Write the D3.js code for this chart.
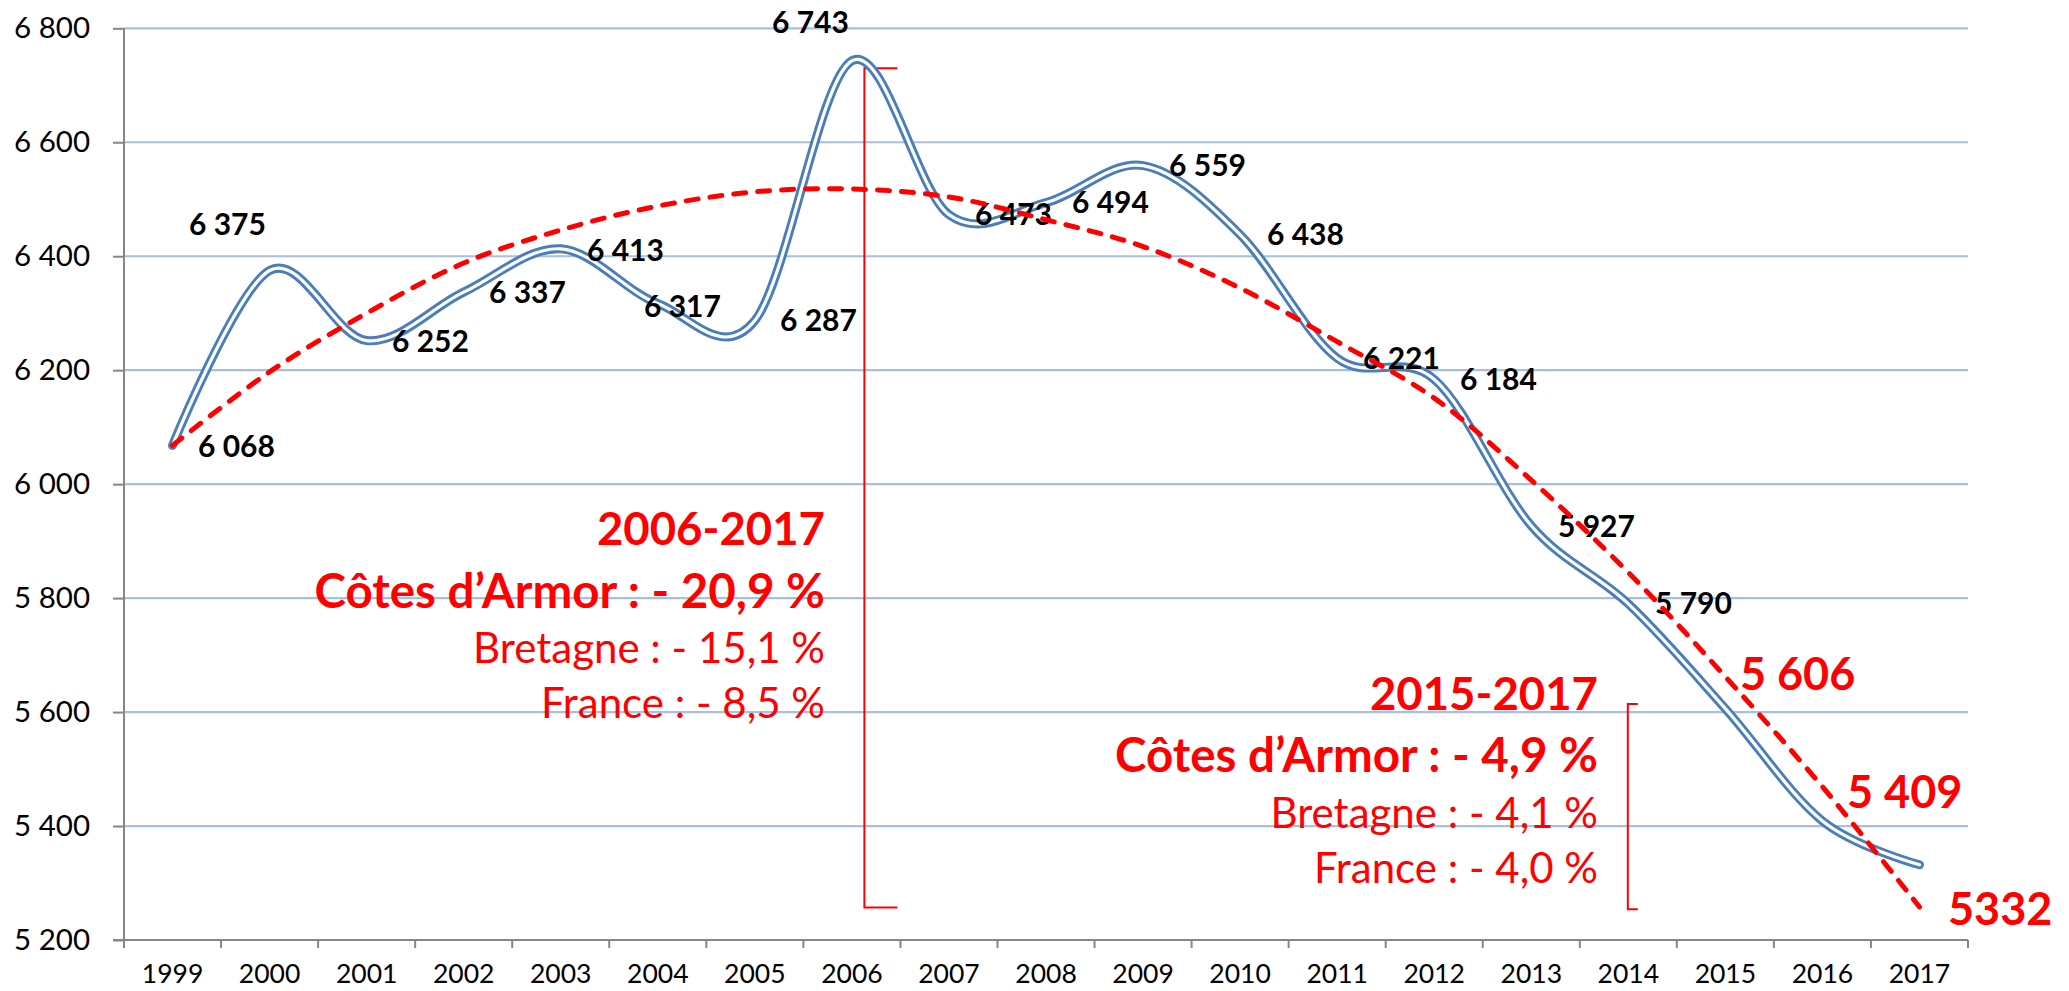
<!DOCTYPE html>
<html><head><meta charset="utf-8">
<script src="https://cdn.jsdelivr.net/npm/d3@7"></script>
<style>body{margin:0;background:#fff}svg{display:block}</style>
</head><body>
<svg id="chart" width="2069" height="991"></svg>
<script>
// ---------- DATA ----------
const years = ["1999","2000","2001","2002","2003","2004","2005","2006","2007","2008","2009","2010","2011","2012","2013","2014","2015","2016","2017"];
const values = [6068,6375,6252,6337,6413,6317,6287,6743,6473,6494,6559,6438,6221,6184,5927,5790,5606,5409,5332];
const valueLabels = ["6 068","6 375","6 252","6 337","6 413","6 317","6 287","6 743","6 473","6 494","6 559","6 438","6 221","6 184","5 927","5 790","5 606","5 409","5332"];
// trend line (red dashed)
const trendValues = [6068,6197,6300,6388,6446,6488,6513,6518,6504,6464,6417,6344,6250,6151,6007,5845,5662,5469,5258];
const yTicks = [5200,5400,5600,5800,6000,6200,6400,6600,6800];
const yTickLabels = ["5 200","5 400","5 600","5 800","6 000","6 200","6 400","6 600","6 800"];
const annotation1 = ["2006-2017","Côtes d’Armor : - 20,9 %","Bretagne : - 15,1 %","France : - 8,5 %"];
const annotation2 = ["2015-2017","Côtes d’Armor : - 4,9 %","Bretagne : - 4,1 %","France : - 4,0 %"];
const bracket1 = {year:"2006", from:6730, to:5257};
const bracket2 = {year:"2014", from:5614, to:5254};
const highlightedYears = ["2015","2016","2017"];

// ---------- LAYOUT ----------
const plot = {left:124, right:1968, top:28.3, bottom:940};
const FONT = "Lato, 'Open Sans', sans-serif";
const blue = "#4A7EBB", red = "#FF0000", axisCol = "#868686", gridCol = "#A7BFE3";
// data-label offsets relative to the point (left edge, baseline)
const labelDx = [25.5,-80.6,25.4,25.3,26.3,-13.8,25.2,-79.9,26.1,26,26,26.9,25.8,25.8,26.7,26.7,14.6,24.6,28.5];
const labelDy = [11.6,-35.4,11.5,10.9,12.2,13.5,10.4,-27.8,10.4,10.4,10.4,10.5,10.8,10.7,11.3,10.3,-18.6,-12.8,60.3];

const svg = d3.select("#chart");
const x = d3.scaleBand().domain(years).range([plot.left, plot.right]);
const y = d3.scaleLinear().domain([5200, 6800]).range([plot.bottom, plot.top]);
const cx = d => x(d) + x.bandwidth()/2;

// gridlines
svg.append("g").selectAll("line").data(yTicks.filter(t => t > 5200)).join("line")
  .attr("x1", plot.left).attr("x2", plot.right)
  .attr("y1", d => y(d)).attr("y2", d => y(d))
  .attr("stroke", gridCol).attr("stroke-width", 2.2);

// y axis
const yAxis = svg.append("g").attr("transform", `translate(${plot.left},0)`)
  .call(d3.axisLeft(y).tickValues(yTicks).tickSize(11).tickPadding(23)
    .tickFormat((d,i) => yTickLabels[i]));
yAxis.select(".domain").remove();
yAxis.selectAll("line").attr("stroke", axisCol).attr("stroke-width", 2);
yAxis.selectAll("text").attr("font-family", FONT).attr("font-size", 29.5).attr("fill", "#000");
svg.append("line").attr("x1", plot.left).attr("x2", plot.left)
  .attr("y1", plot.top).attr("y2", plot.bottom).attr("stroke", axisCol).attr("stroke-width", 2);

// x axis
const xAxis = svg.append("g").attr("transform", `translate(0,${plot.bottom})`)
  .call(d3.axisBottom(x).tickSize(0).tickPadding(24));
xAxis.select(".domain").remove();
xAxis.selectAll("text").attr("font-family", FONT).attr("font-size", 26.5).attr("fill", "#000");
const bounds = years.map(d => x(d)).concat([x.range()[1]]);
svg.append("g").selectAll("line").data(bounds).join("line")
  .attr("x1", d => d).attr("x2", d => d).attr("y1", plot.bottom).attr("y2", plot.bottom + 8)
  .attr("stroke", axisCol).attr("stroke-width", 2);
svg.append("line").attr("x1", plot.left - 11).attr("x2", plot.right)
  .attr("y1", plot.bottom).attr("y2", plot.bottom).attr("stroke", axisCol).attr("stroke-width", 2);

// brackets
function bracket(b, dxLine, tick) {
  const xl = cx(b.year) + dxLine;
  svg.append("path")
    .attr("d", `M${xl + tick},${y(b.from)} L${xl},${y(b.from)} L${xl},${y(b.to)} L${xl + tick},${y(b.to)}`)
    .attr("fill", "none").attr("stroke", red).attr("stroke-width", 2);
}
bracket(bracket1, 12.5, 33);
bracket(bracket2, -0.5, 10);

// series line (double line)
const pts = years.map((d,i) => [cx(d), y(values[i])]);
const lineGen = d3.line().curve(d3.curveCardinal.tension(0));
svg.append("path").attr("d", lineGen(pts)).attr("fill", "none")
  .attr("stroke", blue).attr("stroke-width", 9).attr("stroke-linecap", "round").attr("stroke-linejoin", "round");
svg.append("path").attr("d", lineGen(pts)).attr("fill", "none")
  .attr("stroke", "#fff").attr("stroke-width", 3.2).attr("stroke-linecap", "round").attr("stroke-linejoin", "round");

// black data labels
const idx = years.map((d,i) => i);
const isRed = i => highlightedYears.includes(years[i]);
svg.append("g").selectAll("text").data(idx.filter(i => !isRed(i))).join("text")
  .attr("x", i => cx(years[i]) + labelDx[i]).attr("y", i => y(values[i]) + labelDy[i])
  .attr("font-family", FONT).attr("font-weight", 700).attr("font-size", 30).attr("fill", "#000")
  .text(i => valueLabels[i]);

// trend line
const tpts = years.map((d,i) => [cx(d), y(trendValues[i])]);
svg.append("path").attr("d", d3.line().curve(d3.curveCatmullRom)(tpts)).attr("fill", "none")
  .attr("stroke", red).attr("stroke-width", 5).attr("stroke-linecap", "round")
  .attr("stroke-dasharray", "12 12");

// red data labels
svg.append("g").selectAll("text").data(idx.filter(isRed)).join("text")
  .attr("x", i => cx(years[i]) + labelDx[i]).attr("y", i => y(values[i]) + labelDy[i])
  .attr("font-family", FONT).attr("font-weight", 700).attr("font-size", 45).attr("fill", red)
  .text(i => valueLabels[i]);

// annotations
function annot(lines, xRight, baselines) {
  const g = svg.append("g").attr("font-family", FONT).attr("fill", red).attr("text-anchor", "end");
  const sizes = [45.5, 47.5, 42, 42];
  lines.forEach((t, i) => {
    g.append("text").attr("x", xRight).attr("y", baselines[i])
      .attr("font-weight", i < 2 ? 700 : 400).attr("font-size", sizes[i]).text(t);
  });
}
annot(annotation1, 825, [545, 608, 663, 718]);
annot(annotation2, 1598, [710, 772, 828, 883]);
</script>
</body></html>
